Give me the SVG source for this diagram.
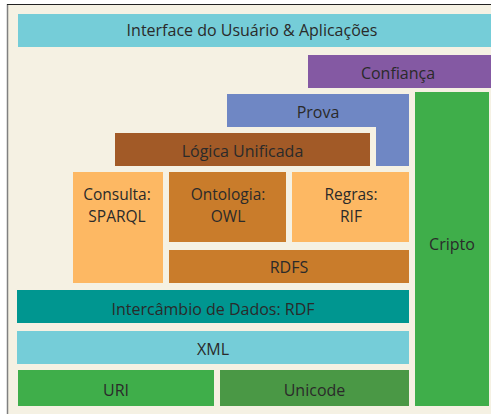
<svg xmlns="http://www.w3.org/2000/svg" width="491" height="414" viewBox="0 0 491 414">
<style>
text{font-family:"Open Sans","Liberation Sans",sans-serif;font-size:16px;fill:#2a2a2a;text-anchor:middle}
text.two{font-size:15.5px}
</style>
<rect x="0" y="0" width="491" height="414" fill="#ffffff"/>
<rect x="8" y="4.5" width="483" height="409.5" fill="#f5f1e3"/>
<line x1="7.5" y1="4" x2="7.5" y2="414" stroke="#808080" stroke-width="1.5"/>
<line x1="7" y1="4.5" x2="491" y2="4.5" stroke="#222222" stroke-width="1"/>
<g id="interface"><rect x="18" y="14" width="473" height="33" fill="#75cdd8"/><text x="252" y="36">Interface do Usuário &amp; Aplicações</text></g>
<g id="confianca"><rect x="308" y="55" width="183" height="33" fill="#8459a3"/><text x="398" y="79">Confiança</text></g>
<g id="prova"><path d="M227 94H409V166H376V127H227Z" fill="#6f87c4"/><text x="318" y="118">Prova</text></g>
<g id="cripto"><rect x="415" y="92" width="74" height="314" fill="#3fae4a"/><text x="452" y="250">Cripto</text></g>
<g id="logica"><rect x="115" y="133" width="255" height="33" fill="#a25a27"/><text x="242.5" y="157">Lógica Unificada</text></g>
<g id="consulta"><rect x="73" y="172" width="90" height="111" fill="#fdb863"/><text class="two" x="117" y="200">Consulta:</text><text class="two" x="117" y="221.5">SPARQL</text></g>
<g id="ontologia"><rect x="169" y="172" width="117" height="70" fill="#c97c2b"/><text class="two" x="228" y="200">Ontologia:</text><text class="two" x="228" y="221.5">OWL</text></g>
<g id="regras"><rect x="292" y="172" width="117" height="70" fill="#fdb863"/><text class="two" x="351" y="200">Regras:</text><text class="two" x="351" y="221.5">RIF</text></g>
<g id="rdfs"><rect x="169" y="250" width="240" height="33" fill="#c97c2b"/><text x="289" y="273">RDFS</text></g>
<g id="rdf"><rect x="17" y="290" width="392" height="33" fill="#009690"/><text x="213" y="315">Intercâmbio de Dados: RDF</text></g>
<g id="xml"><rect x="17" y="331" width="392" height="33" fill="#75cdd8"/><text x="213" y="355">XML</text></g>
<g id="uri"><rect x="18" y="370" width="196" height="36" fill="#3fae4a"/><text x="116" y="396">URI</text></g>
<g id="unicode"><rect x="220" y="370" width="189" height="36" fill="#4a9845"/><text x="314.5" y="396">Unicode</text></g>
<g id="connectors"/>
</svg>
